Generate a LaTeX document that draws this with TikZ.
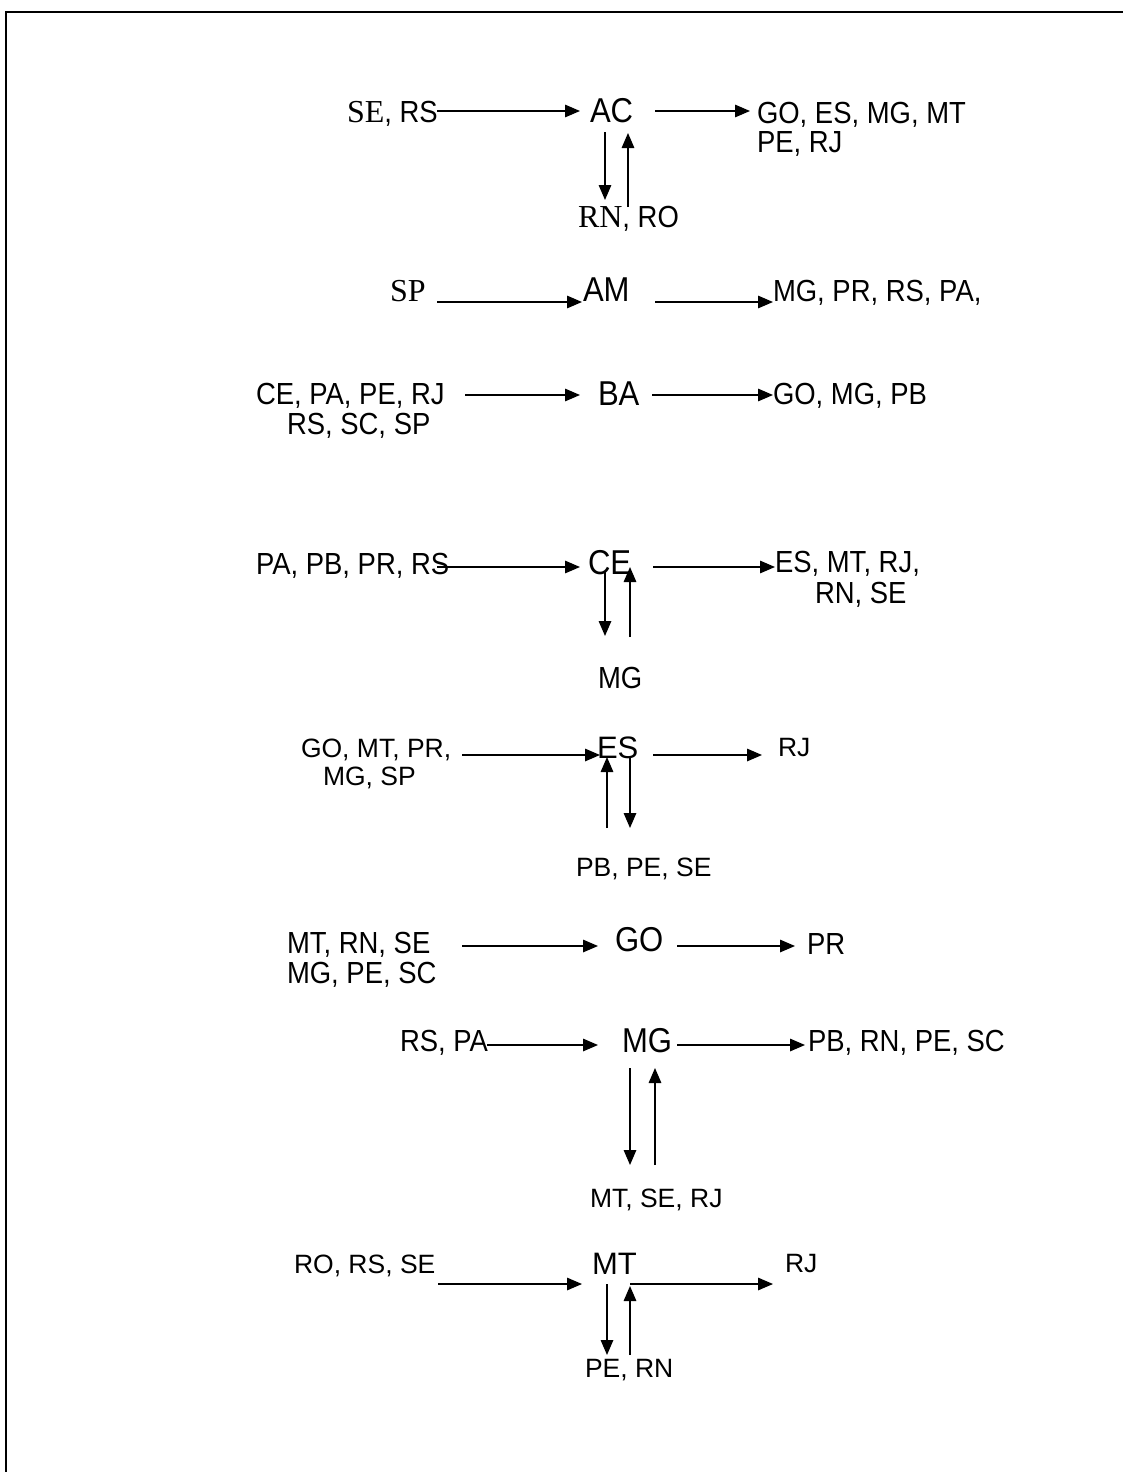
\documentclass[tikz,border=0pt]{standalone}
\usepackage{fontspec}
\usetikzlibrary{arrows.meta}
\setmainfont{Liberation Sans}
\newfontfamily\arialfont{Liberation Sans}
\newfontfamily\narrowfont[FakeStretch=0.9]{Liberation Sans}
\newfontfamily\timesfont{Liberation Serif}
\newcommand\tms{\timesfont\fontsize{32}{36}\selectfont}
\begin{document}
\begin{tikzpicture}[x=1pt,y=-1pt,
  txt/.style={inner sep=0pt,outer sep=0pt,anchor=base west},
  nside/.style={txt,font=\narrowfont\fontsize{30.5}{34}\selectfont},
  nbig/.style={txt,font=\narrowfont\fontsize{34.5}{38}\selectfont},
  aside/.style={txt,font=\arialfont\fontsize{26.5}{30}\selectfont},
  abig/.style={txt,font=\arialfont\fontsize{31}{35}\selectfont},
  arr/.style={line width=1.5pt,-{Triangle[length=15pt,width=12.5pt]}},
  frame/.style={line width=2pt}]
\useasboundingbox (0,0) rectangle (1123,1472);
\coordinate (fr1) at (6,12);
\coordinate (fr2) at (1123,12);
\coordinate (fr3) at (6,1472);
\draw[frame] (fr3) -- (fr1) -- (fr2);

% ---------- AC ----------
\node[nside] (acin) at (347,122) {{\tms SE}, RS};
\node[nbig] (ac) at (590,122) {AC};
\node[nside] (acout1) at (757,123) {GO, ES, MG, MT};
\node[nside] (acout2) at (757,152) {PE, RJ};
\node[nside] (acdn) at (578,227) {{\tms RN}, RO};
\coordinate (ac1) at (437,111); \coordinate (ac2) at (580,111);
\coordinate (ac3) at (655,111); \coordinate (ac4) at (750,111);
\coordinate (ac5) at (605,132); \coordinate (ac6) at (605,200);
\coordinate (ac7) at (628,207); \coordinate (ac8) at (628,133);
\draw[arr] (ac1) -- (ac2);
\draw[arr] (ac3) -- (ac4);
\draw[arr] (ac5) -- (ac6);
\draw[arr] (ac7) -- (ac8);

% ---------- AM ----------
\node[txt,font=\tms] (amin) at (390,301) {SP};
\node[nbig] (am) at (583,301) {AM};
\node[nside] (amout) at (773,301) {MG, PR, RS, PA,};
\coordinate (am1) at (437,302); \coordinate (am2) at (582,302);
\coordinate (am3) at (655,302); \coordinate (am4) at (773,302);
\draw[arr] (am1) -- (am2);
\draw[arr] (am3) -- (am4);

% ---------- BA ----------
\node[nside] (bain1) at (256,404) {CE, PA, PE, RJ};
\node[nside] (bain2) at (287,434) {RS, SC, SP};
\node[nbig] (ba) at (598,405) {BA};
\node[nside] (baout) at (773,404) {GO, MG, PB};
\coordinate (ba1) at (465,395); \coordinate (ba2) at (580,395);
\coordinate (ba3) at (652,395); \coordinate (ba4) at (773,395);
\draw[arr] (ba1) -- (ba2);
\draw[arr] (ba3) -- (ba4);

% ---------- CE ----------
\node[nside] (cein) at (256,574) {PA, PB, PR, RS};
\node[nbig] (ce) at (588,574) {CE};
\node[nside] (ceout1) at (775,572) {ES, MT, RJ,};
\node[nside] (ceout2) at (815,603) {RN, SE};
\node[nside] (cedn) at (598,688) {MG};
\coordinate (ce1) at (437,567); \coordinate (ce2) at (580,567);
\coordinate (ce3) at (653,567); \coordinate (ce4) at (775,567);
\coordinate (ce5) at (605,572); \coordinate (ce6) at (605,636);
\coordinate (ce7) at (630,637); \coordinate (ce8) at (630,567);
\draw[arr] (ce1) -- (ce2);
\draw[arr] (ce3) -- (ce4);
\draw[arr] (ce5) -- (ce6);
\draw[arr] (ce7) -- (ce8);

% ---------- ES ----------
\node[aside] (esin1) at (301,757) {GO, MT, PR,};
\node[aside] (esin2) at (323,785) {MG, SP};
\node[abig] (es) at (597,758) {ES};
\node[aside] (esout) at (778,756) {RJ};
\node[aside] (esdn) at (576,876) {PB, PE, SE};
\coordinate (es1) at (462,755); \coordinate (es2) at (600,755);
\coordinate (es3) at (653,755); \coordinate (es4) at (762,755);
\coordinate (es5) at (607,828); \coordinate (es6) at (607,757);
\coordinate (es7) at (630,757); \coordinate (es8) at (630,828);
\draw[arr] (es1) -- (es2);
\draw[arr] (es3) -- (es4);
\draw[arr] (es5) -- (es6);
\draw[arr] (es7) -- (es8);

% ---------- GO ----------
\node[nside] (goin1) at (287,953) {MT, RN, SE};
\node[nside] (goin2) at (287,983) {MG, PE, SC};
\node[nbig] (go) at (615,951) {GO};
\node[nside] (goout) at (807,954) {PR};
\coordinate (go1) at (462,946); \coordinate (go2) at (598,946);
\coordinate (go3) at (677,946); \coordinate (go4) at (795,946);
\draw[arr] (go1) -- (go2);
\draw[arr] (go3) -- (go4);

% ---------- MG ----------
\node[nside] (mgin) at (400,1051) {RS, PA};
\node[nbig] (mg) at (622,1052) {MG};
\node[nside] (mgout) at (808,1051) {PB, RN, PE, SC};
\node[aside] (mgdn) at (590,1207) {MT, SE, RJ};
\coordinate (mg1) at (487,1045); \coordinate (mg2) at (598,1045);
\coordinate (mg3) at (677,1045); \coordinate (mg4) at (805,1045);
\coordinate (mg5) at (630,1068); \coordinate (mg6) at (630,1165);
\coordinate (mg7) at (655,1165); \coordinate (mg8) at (655,1068);
\draw[arr] (mg1) -- (mg2);
\draw[arr] (mg3) -- (mg4);
\draw[arr] (mg5) -- (mg6);
\draw[arr] (mg7) -- (mg8);

% ---------- MT ----------
\node[aside] (mtin) at (294,1273) {RO, RS, SE};
\node[abig] (mt) at (592,1274) {MT};
\node[aside] (mtout) at (785,1272) {RJ};
\node[aside] (mtdn) at (585,1377) {PE, RN};
\coordinate (mt1) at (438,1284); \coordinate (mt2) at (582,1284);
\coordinate (mt3) at (630,1284); \coordinate (mt4) at (773,1284);
\coordinate (mt5) at (607,1284); \coordinate (mt6) at (607,1355);
\coordinate (mt7) at (630,1355); \coordinate (mt8) at (630,1286);
\draw[arr] (mt1) -- (mt2);
\draw[arr] (mt3) -- (mt4);
\draw[arr] (mt5) -- (mt6);
\draw[arr] (mt7) -- (mt8);
\end{tikzpicture}
\end{document}
